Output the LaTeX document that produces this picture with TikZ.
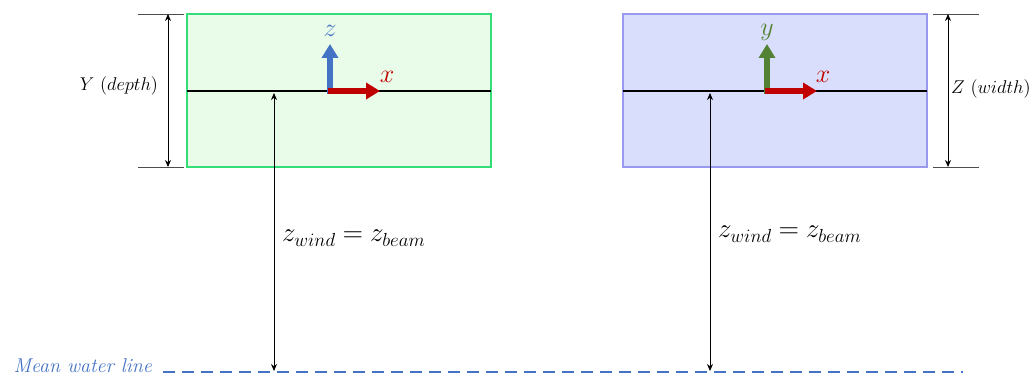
\documentclass[tikz,border=0pt]{standalone}
\DeclareFontShape{OML}{cmm}{m}{it}{<-8>cmmi7<8-12>cmmi10<12->cmmi12}{}
\DeclareFontShape{OT1}{cmr}{m}{n}{<-8>cmr7<8-12>cmr10<12->cmr12}{}
\usetikzlibrary{arrows.meta}
\definecolor{gfill}{HTML}{E9FCE9}
\definecolor{gedge}{HTML}{33DD77}
\definecolor{bfill}{HTML}{D9DEFC}
\definecolor{bedge}{HTML}{9999F0}
\definecolor{axblue}{HTML}{4472C4}
\definecolor{axred}{HTML}{C00000}
\definecolor{axgreen}{HTML}{548235}
\tikzset{
  beambox/.style={draw, line width=1.2pt, minimum width=304pt, minimum height=153pt, inner sep=0pt, outer sep=0pt, anchor=north west},
  beamline/.style={line width=2.8pt, black},
  axisarrow/.style={line width=5.5pt, -{Triangle[width=16pt,length=14pt]}},
  dimline/.style={line width=0.6pt, black!70},
  dimarrow/.style={line width=0.8pt, {Stealth[length=7pt,width=6pt]}-{Stealth[length=7pt,width=6pt]}},
  waterline/.style={line width=1.3pt, axblue, dash pattern=on 12pt off 7pt},
  axlabel/.style={font=\fontsize{26}{30}\selectfont, inner sep=0pt},
  dimlabel/.style={font=\fontsize{18.5}{22}\selectfont, inner sep=0pt},
  zlabel/.style={font=\fontsize{27}{32}\selectfont, inner sep=0pt, anchor=base west},
}
\begin{document}
\begin{tikzpicture}[x=1pt,y=-1pt]
\useasboundingbox (0,0) rectangle (1031,374);
% boxes
\node[beambox, fill=gfill, draw=gedge] (boxL) at (187,14) {};
\node[beambox, fill=bfill, draw=bedge] (boxR) at (623,14) {};
% beam lines
\coordinate (bLa) at (187,91); \coordinate (bLb) at (491,91);
\coordinate (bRa) at (623,91); \coordinate (bRb) at (927,91);
\draw[beamline] (bLa) -- (bLb);
\draw[beamline] (bRa) -- (bRb);
% axes left
\coordinate (oL) at (330,94);
\coordinate (oLz) at (330,44);
\coordinate (oLs) at (327.5,91);
\coordinate (oLx) at (380,91);
\draw[axisarrow, axblue] (oL) -- (oLz);
\draw[axisarrow, axred] (oLs) -- (oLx);
\node[axlabel, text=axblue] (lzL) at (330,31) {$z$};
\node[axlabel, text=axred] (lxL) at (387,77) {$x$};
% axes right
\coordinate (oR) at (767,94);
\coordinate (oRy) at (767,44);
\coordinate (oRs) at (764.5,91);
\coordinate (oRx) at (817,91);
\draw[axisarrow, axgreen] (oR) -- (oRy);
\draw[axisarrow, axred] (oRs) -- (oRx);
\node[axlabel, text=axgreen] (lyR) at (767,32) {$y$};
\node[axlabel, text=axred] (lxR) at (823,77) {$x$};
% dimension left
\coordinate (dLt1) at (138,14); \coordinate (dLt2) at (184,14);
\coordinate (dLb1) at (138,167); \coordinate (dLb2) at (184,167);
\draw[dimline] (dLt1) -- (dLt2);
\draw[dimline] (dLb1) -- (dLb2);
\coordinate (dLa) at (168,14); \coordinate (dLb) at (168,167);
\draw[dimarrow] (dLa) -- (dLb);
\node[dimlabel] (depth) at (119,86) {$Y\ (depth)$};
% dimension right
\coordinate (dRt1) at (933,14); \coordinate (dRt2) at (979,14);
\coordinate (dRb1) at (933,167); \coordinate (dRb2) at (979,167);
\draw[dimline] (dRt1) -- (dRt2);
\draw[dimline] (dRb1) -- (dRb2);
\coordinate (dRa) at (948,14); \coordinate (dRb) at (948,167);
\draw[dimarrow] (dRa) -- (dRb);
\node[dimlabel, anchor=west] (width) at (951,89) {$Z\ (width)$};
% water line
\coordinate (w1) at (163,372); \coordinate (w2) at (963,372);
\draw[waterline] (w1) -- (w2);
\node[font=\fontsize{20}{24}\selectfont\itshape, text=axblue, anchor=base east, inner sep=0pt] (mwl) at (152,372) {Mean water line};
% height arrows
\coordinate (hLt) at (274,93); \coordinate (hLb) at (274,371);
\coordinate (hRt) at (710,93); \coordinate (hRb) at (710,371);
\draw[dimarrow] (hLt) -- (hLb);
\draw[dimarrow] (hRt) -- (hRb);
\node[zlabel] (zL) at (282,242) {$z_{wind}=z_{beam}$};
\node[zlabel] (zR) at (718,238) {$z_{wind}=z_{beam}$};
\end{tikzpicture}
\end{document}
